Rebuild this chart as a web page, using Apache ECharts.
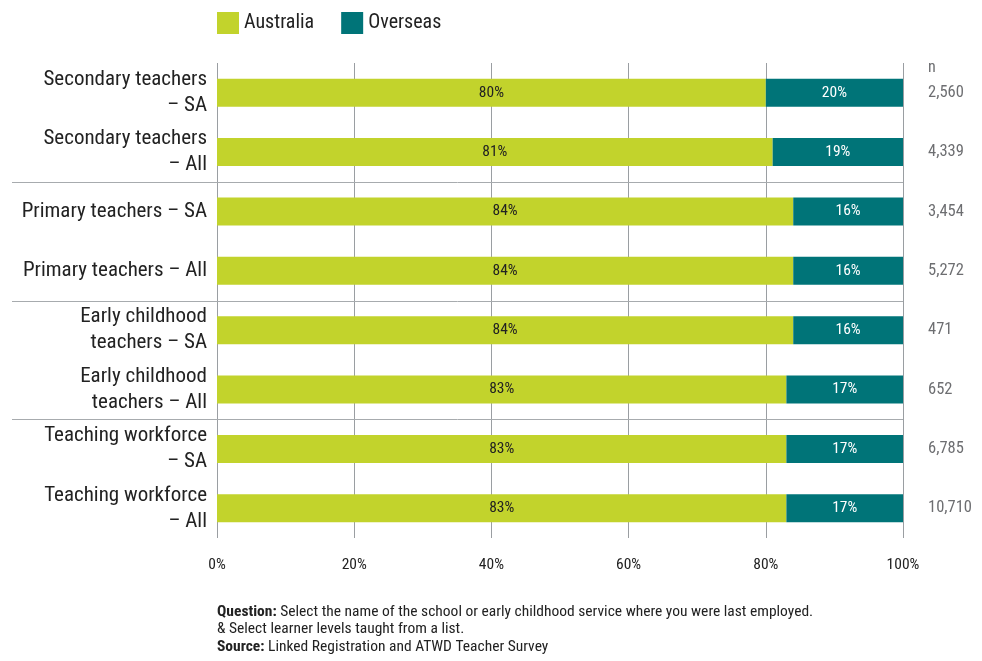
<!DOCTYPE html>
<html>
<head>
<meta charset="utf-8">
<title>Country of initial teacher education</title>
<script src="https://cdn.jsdelivr.net/npm/echarts@6/dist/echarts.min.js"></script>
<style>
  html, body { margin: 0; padding: 0; background: #fff; }
  #chart { width: 982px; height: 661px; }
</style>
</head>
<body>
<div id="chart"></div>
<script>
const FONT = '"Roboto Condensed", "Liberation Sans Narrow", "DejaVu Sans Condensed", sans-serif';

const categories = [
  'Secondary teachers\n– SA',
  'Secondary teachers\n– All',
  'Primary teachers – SA',
  'Primary teachers – All',
  'Early childhood\nteachers – SA',
  'Early childhood\nteachers – All',
  'Teaching workforce\n– SA',
  'Teaching workforce\n– All'
];
const australia = [80, 81, 84, 84, 84, 83, 83, 83];
const overseas = [20, 19, 16, 16, 16, 17, 17, 17];
const nCounts = ['2,560', '4,339', '3,454', '5,272', '471', '652', '6,785', '10,710'];
const xTicks = [0, 20, 40, 60, 80, 100];
// groups are separated after these category indices
const groupBreaks = [1, 3, 5];

const chart = echarts.init(document.getElementById('chart'));

const option = {
  animation: false,
  textStyle: { fontFamily: FONT },
  legend: {
    left: 212,
    top: 7,
    itemWidth: 22,
    itemHeight: 22,
    itemGap: 27,
    icon: 'rect',
    textStyle: { fontFamily: FONT, fontSize: 20, color: '#222' },
    data: ['Australia', 'Overseas']
  },
  grid: { left: 217, right: 79, top: 63, bottom: 123, containLabel: false },
  xAxis: {
    type: 'value',
    min: xTicks[0],
    max: xTicks[xTicks.length - 1],
    interval: 20,
    axisLine: { show: false },
    axisTick: { show: false },
    splitLine: { show: true, lineStyle: { color: '#9a9ea2', width: 1 } },
    axisLabel: {
      formatter: '{value}%',
      margin: 19,
      fontFamily: FONT,
      fontSize: 15.5,
      color: '#222'
    }
  },
  yAxis: [
    {
      type: 'category',
      data: categories,
      inverse: true,
      axisLine: { show: false },
      axisTick: { show: false },
      splitLine: { show: false },
      axisLabel: {
        margin: 10,
        fontFamily: FONT,
        fontSize: 21,
        lineHeight: 26,
        color: '#222',
        align: 'right'
      }
    },
    {
      type: 'category',
      data: nCounts,
      inverse: true,
      position: 'right',
      axisLine: { show: false },
      axisTick: { show: false },
      splitLine: { show: false },
      axisLabel: {
        margin: 25,
        align: 'left',
        fontFamily: FONT,
        fontSize: 16.5,
        color: '#6d6e71'
      }
    }
  ],
  series: [
    {
      name: 'Australia',
      type: 'bar',
      stack: 'total',
      barWidth: 28,
      data: australia,
      itemStyle: { color: '#c2d32c' },
      label: {
        show: true,
        position: 'inside',
        formatter: '{c}%',
        fontFamily: FONT,
        fontSize: 15.5,
        color: '#222'
      }
    },
    {
      name: 'Overseas',
      type: 'bar',
      stack: 'total',
      barWidth: 28,
      data: overseas,
      itemStyle: { color: '#007478' },
      label: {
        show: true,
        position: 'inside',
        formatter: '{c}%',
        fontFamily: FONT,
        fontSize: 15.5,
        color: '#fff'
      }
    }
  ]
};

chart.setOption(option);

// Group separators reach from the left margin to the right end of the plot
const gridRight = chart.convertToPixel({ xAxisIndex: 0 }, xTicks[xTicks.length - 1]);
const separators = groupBreaks.map(function (i) {
  const y0 = chart.convertToPixel({ yAxisIndex: 0 }, i);
  const y1 = chart.convertToPixel({ yAxisIndex: 0 }, i + 1);
  const y = Math.round((y0 + y1) / 2) + 0.5;
  return {
    type: 'line',
    shape: { x1: 12, y1: y, x2: gridRight, y2: y },
    style: { stroke: '#a7abae', lineWidth: 1 },
    z: 0
  };
});

chart.setOption({
  graphic: separators.concat([
    {
      type: 'text',
      left: 928,
      top: 60,
      style: { text: 'n', font: '16px ' + FONT, fill: '#6d6e71' }
    },
    {
      type: 'text',
      left: 217,
      top: 604,
      style: {
        rich: {
          b: { fontFamily: FONT, fontSize: 15.5, fontWeight: 'bold', fill: '#222', lineHeight: 17.5 },
          n: { fontFamily: FONT, fontSize: 15.5, fill: '#222', lineHeight: 17.5 }
        },
        text: '{b|Question:}{n| Select the name of the school or early childhood service where you were last employed.}\n' +
              '{n|& Select learner levels taught from a list.}\n' +
              '{b|Source:}{n| Linked Registration and ATWD Teacher Survey}'
      }
    }
  ])
});
</script>
</body>
</html>
